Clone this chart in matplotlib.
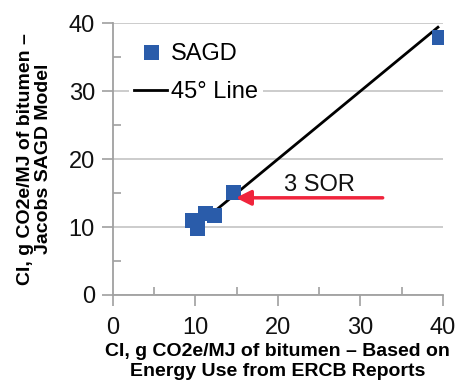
import numpy as np
import matplotlib.pyplot as plt

plt.rcParams['font.family'] = ['Liberation Sans', 'DejaVu Sans']

# CI estimates, g CO2e/MJ of bitumen
ercb_ci = [9.6, 10.2, 11.1, 12.3, 14.5, 39.5]
jacobs_ci = [11.1, 9.8, 12.1, 11.7, 15.1, 37.9]
line_x = [12.5, 39.4]
line_y = [12.5, 39.4]
sor_tail = (32.7, 14.3)
sor_head = (14.9, 14.3)
sor_text = (25.0, 16.2)

fig = plt.figure(figsize=(4.64, 3.9), dpi=100)
ax = fig.add_axes([0.2435, 0.2436, 0.711, 0.697])

ax.grid(axis='y', color='#c8c8c8', lw=1.3, zorder=0)
ax.plot(line_x, line_y, color='black', lw=2, label='45\u00b0 Line', zorder=3)
ax.plot(ercb_ci, jacobs_ci, 's', color='#2a5caa', ms=10.8, mew=0,
        label='SAGD', zorder=4)

ax.annotate('', xy=sor_head, xytext=sor_tail,
            arrowprops=dict(arrowstyle='-|>,head_length=0.9,head_width=0.45',
                            color='#f0243c', lw=2.5, shrinkA=0, shrinkB=0),
            zorder=5)
ax.text(sor_text[0], sor_text[1], '3 SOR', fontsize=17, ha='center',
        va='center', color='#111111', zorder=5)

ax.set_xlim(0, 40)
ax.set_ylim(0, 40)
ax.set_xticks([0, 10, 20, 30, 40])
ax.set_yticks([0, 10, 20, 30, 40])
ax.set_xticks([5, 15, 25, 35], minor=True)
ax.set_yticks([5, 15, 25, 35], minor=True)
ax.tick_params(which='major', direction='out', length=8, width=1.2,
               color='#a0a0a0', labelsize=17, labelcolor='#111111')
ax.tick_params(axis='x', which='major', pad=8)
ax.tick_params(axis='y', which='major', pad=5)
ax.tick_params(which='minor', direction='in', length=6, width=1.2,
               color='#a0a0a0')
for s in ['top', 'right']:
    ax.spines[s].set_visible(False)
for s in ['left', 'bottom']:
    ax.spines[s].set_color('#a0a0a0')
    ax.spines[s].set_linewidth(1.3)

ax.set_xlabel('CI, g CO2e/MJ of bitumen \u2013 Based on\nEnergy Use from ERCB Reports',
              fontsize=14, fontweight='bold', linespacing=1.2, labelpad=3)
ax.set_ylabel('CI, g CO2e/MJ of bitumen \u2013\nJacobs SAGD Model',
              fontsize=14, fontweight='bold', linespacing=1.05, labelpad=12)

handles, labels = ax.get_legend_handles_labels()
leg = ax.legend(handles[::-1], labels[::-1], loc='upper left',
                bbox_to_anchor=(0.05, 0.945), fontsize=17, frameon=True,
                facecolor='white', edgecolor='none', framealpha=1,
                handlelength=1.4, handletextpad=0.15, borderpad=0.2,
                labelspacing=0.7, borderaxespad=0, fancybox=False)
leg.set_zorder(6)

fig.savefig('out.png', dpi=100)
